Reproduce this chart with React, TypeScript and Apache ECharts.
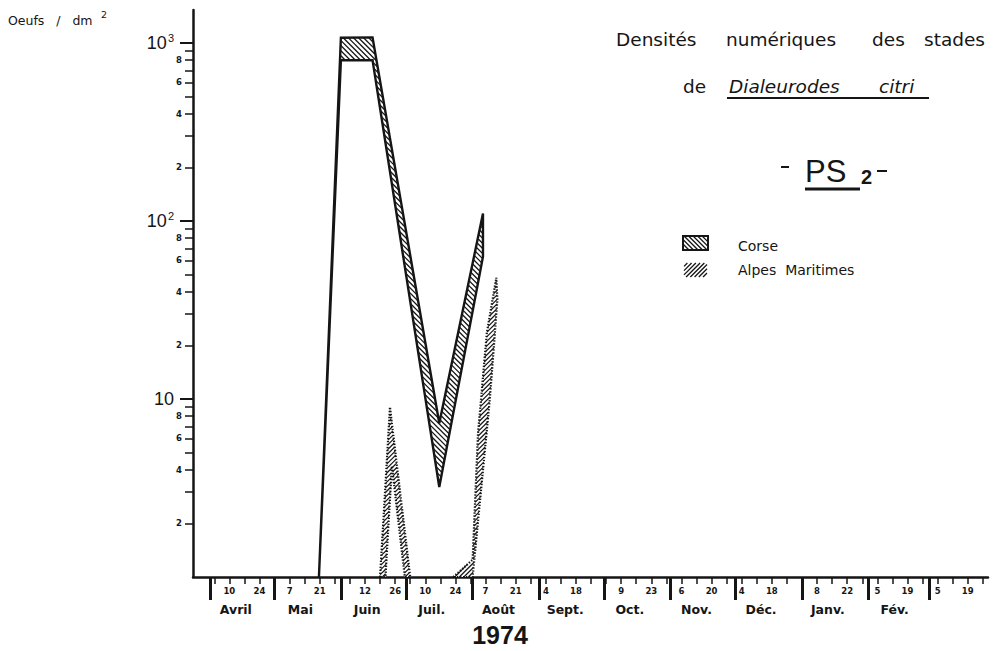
import React, { useEffect, useRef } from 'react';
import * as echarts from 'echarts';

// ---------- DATA (x = days since 1 April 1974, y = eggs per dm², log scale) ----------
const corseDays = [50.6, 60.8, 75.5, 106.5, 126.8];
const corseUpper = [1, 1070, 1075, 7.3, 110];
const corseLower = [1, 800, 800, 3.2, 63];

const alpesPeak1UpperDays = [79, 83.6, 93];
const alpesPeak1Upper = [1, 9, 1];
const alpesPeak1LowerDays = [81.5, 84.5, 90.5];
const alpesPeak1Lower = [1, 4.2, 1];

const alpesPeak2UpperDays = [113, 122, 124.5, 128.6, 133];
const alpesPeak2Upper = [1, 1.25, 6.4, 23.5, 48];
const alpesPeak2LowerDays = [122, 130, 133.5];
const alpesPeak2Lower = [1, 10, 36];

// weekly ticks (days since 1 April 1974)
const weeklyTickDays = [2, 9, 16, 23, 30, 37, 44, 51, 58, 65, 72, 79, 86, 93, 100, 107, 114, 121, 128, 135, 142, 149, 156, 163, 170, 177, 184, 191, 198, 205, 212, 219, 226, 233, 240, 247, 254, 261, 268, 275, 282, 289, 296, 303, 310, 317, 324, 331, 338, 345, 352, 359];
const dayLabelDays = [9, 23, 37, 51, 72, 86, 100, 114, 128, 142, 156, 170, 191, 205, 219, 233, 247, 261, 282, 296, 310, 324, 338, 352];
const dayLabels = ['10', '24', '7', '21', '12', '26', '10', '24', '7', '21', '4', '18', '9', '23', '6', '20', '4', '18', '8', '22', '5', '19', '5', '19'];
const monthStartDays = [0, 30, 61, 91, 122, 153, 183, 214, 244, 275, 306, 334];
const monthLabelDays = [12, 42, 73, 103, 134, 165, 195, 226, 256, 287, 318];
const monthNames = ['Avril', 'Mai', 'Juin', 'Juil.', 'Août', 'Sept.', 'Oct.', 'Nov.', 'Déc.', 'Janv.', 'Fév.'];

const yMajorTicks = [10, 100, 1000];
const yMinorTicks = [2, 3, 4, 5, 6, 7, 8, 9, 20, 30, 40, 50, 60, 70, 80, 90, 200, 300, 400, 500, 600, 700, 800, 900];
const yMinorLabels = [2, 4, 6, 8, 20, 40, 60, 80, 200, 400, 600, 800];

const seriesNames = ['Corse', 'Alpes Maritimes'];
const yearLabel = '1974';
const unitLabel = 'Oeufs   /   dm';

// ---------- helpers ----------
const INK = '#151515';

function polygon(upDays: number[], up: number[], loDays: number[], lo: number[]) {
  const pts: number[][] = [];
  for (let i = 0; i < upDays.length; i++) pts.push([upDays[i], up[i]]);
  for (let i = loDays.length - 1; i >= 0; i--) pts.push([loDays[i], lo[i]]);
  return pts;
}

// diagonal hatch segments clipped to a polygon (pixel space)
function hatchSegments(pts: number[][], spacing: number, dir: number) {
  const f = (p: number[]) => p[0] + dir * p[1];
  const step = spacing * Math.SQRT2;
  let cmin = Infinity, cmax = -Infinity;
  pts.forEach(p => { const v = f(p); cmin = Math.min(cmin, v); cmax = Math.max(cmax, v); });
  const segs: number[][] = [];
  for (let c = Math.ceil(cmin / step) * step; c <= cmax; c += step) {
    const hits: number[][] = [];
    for (let i = 0; i < pts.length; i++) {
      const a = pts[i], b = pts[(i + 1) % pts.length];
      const fa = f(a) - c, fb = f(b) - c;
      if ((fa < 0 && fb >= 0) || (fb < 0 && fa >= 0)) {
        const t = fa / (fa - fb);
        hits.push([a[0] + t * (b[0] - a[0]), a[1] + t * (b[1] - a[1])]);
      }
    }
    hits.sort((p, q) => p[0] - q[0]);
    for (let k = 0; k + 1 < hits.length; k += 2) segs.push([hits[k][0], hits[k][1], hits[k + 1][0], hits[k + 1][1]]);
  }
  return segs;
}

function hatchedShape(pts: number[][], o: { spacing: number; dir: number; hw: number; outline: number; dash?: number[] }) {
  const segs = hatchSegments(pts, o.spacing, o.dir);
  return [
    { type: 'polygon', shape: { points: pts }, style: { fill: '#fff', stroke: null } },
    ...segs.map(s => ({ type: 'line', shape: { x1: s[0], y1: s[1], x2: s[2], y2: s[3] }, style: { stroke: INK, lineWidth: o.hw } })),
    ...(o.outline > 0 ? [{ type: 'polygon', shape: { points: pts }, style: { fill: null, stroke: INK, lineWidth: o.outline, lineDash: o.dash || null, lineJoin: 'miter', miterLimit: 3 } }] : []),
  ];
}

function bandSeries(name: string, data: number[][], o: any) {
  return {
    type: 'custom',
    name,
    coordinateSystem: 'cartesian2d',
    xAxisIndex: 0,
    yAxisIndex: 0,
    clip: false,
    silent: true,
    encode: { x: 0, y: 1 },
    data,
    renderItem: (params: any, api: any) => {
      if (params.dataIndexInside !== 0) return null;
      const pts: number[][] = [];
      for (let i = 0; i < data.length; i++) pts.push(api.coord([api.value(0, i), api.value(1, i)]));
      return { type: 'group', children: hatchedShape(pts, o) };
    },
  };
}

const txt = (text: string, x: number, y: number, font: string, align = 'left', va = 'middle') => ({
  type: 'text', silent: true,
  style: { text, x, y, font, fill: INK, align, textAlign: align, verticalAlign: va, textVerticalAlign: va },
});
const ln = (x1: number, y1: number, x2: number, y2: number, w: number) => ({
  type: 'line', silent: true, shape: { x1, y1, x2, y2 }, style: { stroke: INK, lineWidth: w },
});

export default function App() {
  const ref = useRef<HTMLDivElement>(null);
  useEffect(() => {
    if (!ref.current) return;
    const chart = echarts.init(ref.current, null, { renderer: 'svg' });

    const corsePoly = polygon(corseDays, corseUpper, corseDays, corseLower);
    const alpes1Poly = polygon(alpesPeak1UpperDays, alpesPeak1Upper, alpesPeak1LowerDays, alpesPeak1Lower);
    const alpes2Poly = polygon(alpesPeak2UpperDays, alpesPeak2Upper, alpesPeak2LowerDays, alpesPeak2Lower);

    const corseStyle = { spacing: 3.6, dir: -1, hw: 1.3, outline: 2.4 };
    const alpesStyle = { spacing: 3.2, dir: 1, hw: 1.2, outline: 2.2, dash: [1.4, 1.6] };

    const corseIcon = [[683, 236], [708, 236], [708, 250], [683, 250]];
    const alpesIcon = [[684, 263], [707, 263], [707, 277], [684, 277]];

    const dj = '"DejaVu Sans"';
    const lib = '"Liberation Sans"';

    const option: any = {
      animation: false,
      backgroundColor: '#fff',
      grid: { left: 193, top: 10, right: 8, bottom: 74, containLabel: false },
      xAxis: [
        {
          type: 'value', min: -7.9, max: 361.4, position: 'bottom',
          axisLine: { show: true, onZero: false, lineStyle: { color: INK, width: 2.5 } },
          axisTick: { show: true, customValues: weeklyTickDays, length: 7, lineStyle: { color: INK, width: 1.5 } },
          axisLabel: {
            show: true, customValues: dayLabelDays, margin: 9,
            formatter: (v: number) => dayLabels[dayLabelDays.indexOf(v)] ?? '',
            fontFamily: dj, fontWeight: 'bold', fontSize: 8.5, color: INK,
          },
          splitLine: { show: false },
        },
        {
          type: 'value', min: -7.9, max: 361.4, position: 'bottom',
          axisLine: { show: false, onZero: false },
          axisTick: { show: true, customValues: monthStartDays, length: 23, lineStyle: { color: INK, width: 3 } },
          axisLabel: {
            show: true, customValues: monthLabelDays, margin: 26,
            formatter: (v: number) => monthNames[monthLabelDays.indexOf(v)] ?? '',
            fontFamily: dj, fontWeight: 'bold', fontSize: 12.5, color: INK,
          },
          splitLine: { show: false },
        },
      ],
      yAxis: [
        {
          type: 'log', logBase: 10, min: 1, max: 1531, position: 'left',
          axisLine: { show: true, onZero: false, lineStyle: { color: INK, width: 2.5 } },
          axisTick: { show: true, customValues: yMajorTicks, length: 13, lineStyle: { color: INK, width: 2 } },
          axisLabel: {
            show: true, customValues: yMajorTicks, margin: 19,
            formatter: (v: number) => {
              const e = Math.round(Math.log10(v));
              return e === 1 ? '{b|10}' : '{b|10}{s|' + e + '}';
            },
            rich: {
              b: { fontFamily: lib, fontSize: 18, color: INK, lineHeight: 20 },
              s: { fontFamily: lib, fontSize: 11, color: INK, verticalAlign: 'top', lineHeight: 20, padding: [0, 0, 0, 1] },
            },
          },
          splitLine: { show: false },
          minorTick: { show: false },
        },
        {
          type: 'log', logBase: 10, min: 1, max: 1531, position: 'left',
          axisLine: { show: false, onZero: false },
          axisTick: { show: true, customValues: yMinorTicks, length: 8, lineStyle: { color: INK, width: 1.5 } },
          axisLabel: {
            show: true, customValues: yMinorLabels, margin: 11,
            formatter: (v: number) => String(Math.round(v / Math.pow(10, Math.floor(Math.log10(v) + 1e-9)))),
            fontFamily: dj, fontWeight: 'bold', fontSize: 8.5, color: INK,
          },
          splitLine: { show: false },
        },
      ],
      series: [
        bandSeries(seriesNames[0], corsePoly, corseStyle),
        bandSeries(seriesNames[1], alpes1Poly, alpesStyle),
        bandSeries(seriesNames[1] + ' 2', alpes2Poly, alpesStyle),
      ],
      graphic: [
        txt(unitLabel, 8, 20, `12.5px ${dj}`),
        txt('2', 101, 14, `9.5px ${dj}`),
        // title block
        txt('Densités', 616, 39, `18.5px ${dj}`),
        txt('numériques', 726, 39, `18.5px ${dj}`),
        txt('des', 872, 39, `18.5px ${dj}`),
        txt('stades', 924, 39, `18.5px ${dj}`),
        txt('de', 683, 86, `18.5px ${dj}`),
        txt('Dialeurodes', 729, 86, `italic 18.5px ${dj}`),
        txt('citri', 879, 86, `italic 18.5px ${dj}`),
        ln(727, 98, 929, 98, 2),
        ln(781, 167, 789, 167, 2),
        txt('PS', 805, 171, `31px ${lib}`),
        txt('2', 861, 177, `bold 20px ${lib}`),
        ln(877, 171, 887, 171, 2),
        ln(805, 189, 860, 189, 3),
        // legend
        { type: 'group', silent: true, children: hatchedShape(corseIcon, { spacing: 3.2, dir: -1, hw: 1.3, outline: 2 }) },
        txt(seriesNames[0], 738, 246, `14px ${dj}`),
        { type: 'group', silent: true, children: hatchedShape(alpesIcon, { spacing: 3, dir: 1, hw: 1.3, outline: 0 }) },
        txt('Alpes  Maritimes', 738, 270, `14px ${dj}`),
        // year
        txt(yearLabel, 500, 635, `bold 25px ${lib}`, 'center'),
      ],
    };
    chart.setOption(option);
    return () => chart.dispose();
  }, []);
  return <div ref={ref} style={{ position: 'fixed', left: 0, top: 0, width: 996, height: 651, background: '#fff' }} />;
}
